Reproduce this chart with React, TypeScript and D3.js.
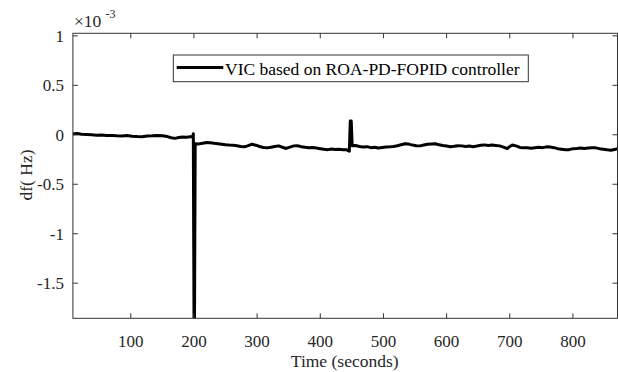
import React from "react";
import * as d3 from "d3";

// Time (seconds)
const times: number[] = [
  8, 15, 22, 30, 38, 46, 54, 62, 70, 78, 86, 94, 102, 110, 118, 126, 134, 142, 150, 158,
  164, 170, 176, 182, 188, 194, 198, 199, 200.5, 202, 208, 214, 220, 226, 232, 238, 244,
  250, 256, 262, 268, 274, 280, 286, 292, 298, 304, 310, 316, 322, 328, 334, 340, 346,
  352, 358, 364, 370, 376, 382, 388, 394, 400, 406, 412, 418, 424, 430, 436, 442, 446,
  447.5, 449, 450.5, 456, 462, 468, 474, 480, 486, 492, 498, 504, 510, 516, 522, 528,
  534, 540, 546, 552, 558, 564, 570, 576, 582, 588, 594, 600, 606, 612, 618, 624, 630,
  636, 642, 648, 654, 660, 666, 672, 678, 684, 690, 696, 700, 704, 710, 716, 722, 728,
  734, 740, 746, 752, 758, 764, 770, 776, 782, 788, 794, 800, 806, 812, 818, 824, 830,
  836, 842, 848, 854, 860, 866, 871,
];

// df (Hz), in units of 1e-3
const dfValues: number[] = [
  0.008, 0.012, 0.006, 0.004, 0.0, -0.004, -0.002, -0.008, -0.006, -0.01, -0.012, -0.008,
  -0.014, -0.018, -0.02, -0.012, -0.01, -0.006, -0.01, -0.018, -0.03, -0.036, -0.028,
  -0.022, -0.024, -0.02, -0.018, 0.01, -2.5, -0.09, -0.092, -0.085, -0.078, -0.08, -0.086,
  -0.09, -0.095, -0.1, -0.104, -0.106, -0.11, -0.118, -0.122, -0.11, -0.095, -0.105,
  -0.118, -0.128, -0.132, -0.125, -0.118, -0.112, -0.126, -0.138, -0.124, -0.112, -0.11,
  -0.12, -0.126, -0.13, -0.128, -0.134, -0.14, -0.146, -0.15, -0.144, -0.148, -0.146,
  -0.15, -0.152, -0.165, 0.14, 0.14, -0.11, -0.108, -0.118, -0.124, -0.12, -0.13, -0.126,
  -0.134, -0.128, -0.124, -0.122, -0.118, -0.11, -0.1, -0.09, -0.094, -0.104, -0.11,
  -0.112, -0.104, -0.096, -0.092, -0.09, -0.1, -0.108, -0.114, -0.12, -0.116, -0.11,
  -0.112, -0.118, -0.114, -0.12, -0.114, -0.106, -0.102, -0.108, -0.104, -0.108, -0.112,
  -0.124, -0.14, -0.118, -0.104, -0.112, -0.128, -0.13, -0.132, -0.136, -0.13, -0.126,
  -0.13, -0.122, -0.124, -0.13, -0.14, -0.146, -0.152, -0.15, -0.14, -0.138, -0.134,
  -0.138, -0.134, -0.13, -0.132, -0.14, -0.146, -0.152, -0.156, -0.148, -0.142,
];

const xTicks: number[] = [100, 200, 300, 400, 500, 600, 700, 800];
const yTicks: number[] = [1, 0.5, 0, -0.5, -1, -1.5];
const yTickLabels: string[] = ["1", "0.5", "0", "-0.5", "-1", "-1.5"];
const legendLabel = "VIC based on ROA-PD-FOPID controller";

const W = 618;
const H = 372;
const L = 72.9;
const R = 617.5;
const T = 33.3;
const B = 318.3;
const FONT = "Liberation Serif, DejaVu Serif, Times New Roman, serif";
const AX = "#333";
const TXT = "#262626";

export default function App() {
  const x = d3.scaleLinear().domain([8.4, 870.5]).range([L, R]);
  const y = d3.scaleLinear().domain([-1.855, 1.026]).range([B, T]);
  const pts = times.map((t, i) => [t, dfValues[i]] as [number, number]);
  const line = d3
    .line<[number, number]>()
    .x((d) => x(d[0]))
    .y((d) => y(d[1]));
  const tl = 5;
  const ts = { fontFamily: FONT };
  return (
    <svg
      width={W}
      height={H}
      style={{ position: "absolute", left: 0, top: 0, display: "block", background: "#fff", fontFamily: FONT }}
    >
      <defs>
        <clipPath id="plotclip">
          <rect x={L} y={T} width={R - L} height={B - T} />
        </clipPath>
      </defs>
      <rect x={0} y={0} width={W} height={H} fill="#fff" />
      <path
        d={line(pts) || ""}
        fill="none"
        stroke="#000"
        strokeWidth={3}
        strokeLinejoin="round"
        clipPath="url(#plotclip)"
      />
      {/* axes box */}
      <rect x={L} y={T} width={R - L} height={B - T} fill="none" stroke={AX} strokeWidth={1} />
      {xTicks.map((t) => (
        <g key={"xt" + t}>
          <line x1={x(t)} x2={x(t)} y1={B} y2={B - tl} stroke={AX} />
          <line x1={x(t)} x2={x(t)} y1={T} y2={T + tl} stroke={AX} />
          <text x={x(t)} y={347} textAnchor="middle" fontSize={17} fill={TXT} style={ts}>
            {t}
          </text>
        </g>
      ))}
      {yTicks.map((v, i) => (
        <g key={"yt" + v}>
          <line x1={L} x2={L + tl} y1={y(v)} y2={y(v)} stroke={AX} />
          <line x1={R} x2={R - tl} y1={y(v)} y2={y(v)} stroke={AX} />
          <text x={64} y={y(v) + 6} textAnchor="end" fontSize={17} fill={TXT} style={ts}>
            {yTickLabels[i]}
          </text>
        </g>
      ))}
      {/* exponent */}
      <text x={74} y={26.5} fontSize={17.5} fill={TXT} style={ts}>
        ×10
      </text>
      <text x={105.5} y={18} fontSize={12} fill={TXT} style={ts}>
        -3
      </text>
      {/* axis labels */}
      <text x={(L + R) / 2 - 0.5} y={366.5} textAnchor="middle" fontSize={17.5} fill={TXT} style={ts}>
        Time (seconds)
      </text>
      <text
        transform="translate(32,175) rotate(-90)"
        textAnchor="middle"
        fontSize={17.5}
        fill={TXT}
        style={ts}
      >
        df( Hz)
      </text>
      {/* legend */}
      <rect x={173.3} y={55} width={355} height={26.7} fill="#fff" stroke={AX} strokeWidth={1} />
      <line x1={176.7} x2={223.3} y1={67.5} y2={67.5} stroke="#000" strokeWidth={3} />
      <text x={225} y={74.5} fontSize={17.5} fill="#000" style={ts}>
        {legendLabel}
      </text>
    </svg>
  );
}
